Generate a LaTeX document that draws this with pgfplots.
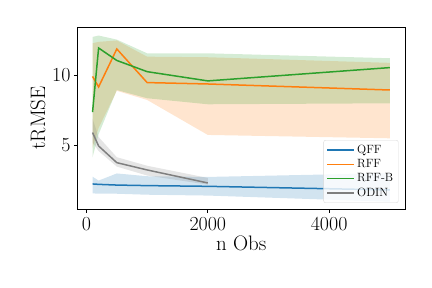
\documentclass[border=0pt]{standalone}
\usepackage{pgfplots}
\usepackage{pgfplotstable}
\pgfplotsset{compat=1.18}
\usepgfplotslibrary{fillbetween}
\definecolor{c0}{HTML}{1F77B4}
\definecolor{c1}{HTML}{FF7F0E}
\definecolor{c2}{HTML}{2CA02C}
\definecolor{c7}{HTML}{7F7F7F}
\pgfplotstableread{
x mean lo hi
100 2.25 1.58 2.77
200 2.22 1.55 2.49
500 2.17 1.55 3.00
1000 2.13 1.48 2.80
2000 2.08 1.42 2.75
5000 1.82 0.98 3.02
}\qff
\pgfplotstableread{
x mean lo hi
100 9.93 4.82 12.30
200 9.18 6.25 12.40
500 11.89 8.90 12.50
1000 9.49 8.25 11.34
2000 9.39 5.75 11.30
5000 8.96 5.51 10.90
}\rff
\pgfplotstableread{
x mean lo hi
100 7.38 4.15 12.75
200 11.96 5.80 12.85
500 11.07 8.96 12.56
1000 10.27 8.37 11.58
2000 9.61 7.94 11.58
5000 10.56 8.01 11.23
}\rffb
\pgfplotstableread{
x mean lo hi
100 5.92 5.22 6.90
200 4.96 4.60 5.60
500 3.77 3.49 4.16
1000 3.25 2.85 3.55
2000 2.32 2.20 2.68
}\odin
\begin{document}
\begin{tikzpicture}
\begin{axis}[
  at={(0,0)}, anchor=south west,
  scale only axis, width=327.5bp, height=182bp,
  xmin=-148, xmax=5251, ymin=0.46, ymax=13.46,
  xtick={0,2000,4000}, ytick={5,10},
  tick align=outside, tick pos=left,
  major tick length=3.5bp,
  every tick/.style={black, line width=0.8bp},
  axis line style={black, line width=0.8bp},
  /pgf/number format/assume math mode=true,
  tick label style={font=\fontsize{20}{24}\selectfont},
  xticklabel style={yshift=-1bp},
  xlabel={n Obs}, ylabel={tRMSE},
  xlabel style={font=\fontsize{21}{25}\selectfont, yshift=2bp},
  ylabel style={font=\fontsize{21}{25}\selectfont, yshift=0bp},
  scaled x ticks=false,
  xticklabel={\pgfmathprintnumber[fixed,precision=0,1000 sep={}]{\tick}},
  legend style={at={(0.980,0.033)}, anchor=south east,
    font=\fontsize{12}{14}\selectfont,
    draw=black!15, fill=white, fill opacity=0.8, text opacity=1,
    rounded corners=2bp, row sep=0.5bp, inner xsep=3bp, inner ysep=3bp},
  legend cell align=left,
  legend image code/.code={\draw[#1, line width=1.5bp] (0bp,0bp) -- (27bp,0bp);},
]
% QFF
\addplot[c0, line width=1.5bp] table[x=x,y=mean]{\qff};
\addlegendentry{QFF}
\addplot[name path=qa, draw=none, forget plot] table[x=x,y=hi]{\qff};
\addplot[name path=qb, draw=none, forget plot] table[x=x,y=lo]{\qff};
\addplot[c0, fill opacity=0.2, draw=none, forget plot] fill between[of=qa and qb];
% RFF
\addplot[c1, line width=1.5bp] table[x=x,y=mean]{\rff};
\addlegendentry{RFF}
\addplot[name path=ra, draw=none, forget plot] table[x=x,y=hi]{\rff};
\addplot[name path=rb, draw=none, forget plot] table[x=x,y=lo]{\rff};
\addplot[c1, fill opacity=0.2, draw=none, forget plot] fill between[of=ra and rb];
% RFF-B
\addplot[c2, line width=1.5bp] table[x=x,y=mean]{\rffb};
\addlegendentry{RFF-B}
\addplot[name path=ba, draw=none, forget plot] table[x=x,y=hi]{\rffb};
\addplot[name path=bb, draw=none, forget plot] table[x=x,y=lo]{\rffb};
\addplot[c2, fill opacity=0.2, draw=none, forget plot] fill between[of=ba and bb];
% ODIN
\addplot[c7, line width=1.5bp] table[x=x,y=mean]{\odin};
\addlegendentry{ODIN}
\addplot[name path=oa, draw=none, forget plot] table[x=x,y=hi]{\odin};
\addplot[name path=ob, draw=none, forget plot] table[x=x,y=lo]{\odin};
\addplot[c7, fill opacity=0.2, draw=none, forget plot] fill between[of=oa and ob];
\end{axis}
\path (-77.5bp,-79bp) rectangle (354.5bp,209bp);
\end{tikzpicture}
\end{document}
